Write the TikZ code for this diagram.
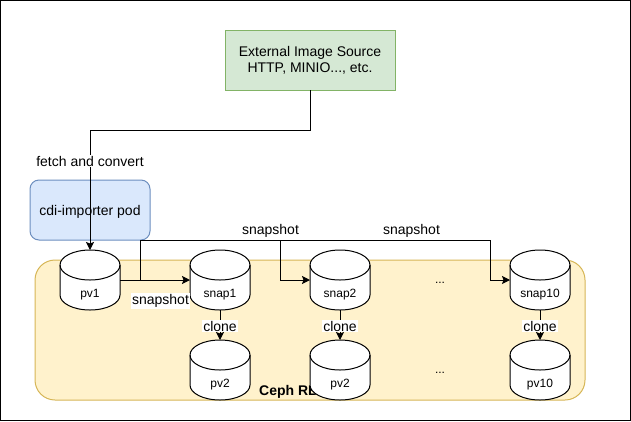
\documentclass[tikz,border=0pt]{standalone}
\usepackage{fontspec}
\setmainfont{Liberation Sans}
\usetikzlibrary{arrows.meta}
\definecolor{srcfill}{HTML}{D5E8D4}
\definecolor{srcline}{HTML}{82B366}
\definecolor{podfill}{HTML}{DAE8FC}
\definecolor{podline}{HTML}{6C8EBF}
\definecolor{cephfill}{HTML}{FFF2CC}
\definecolor{cephline}{HTML}{D6B656}
\tikzset{
    box/.style={draw, line width=1pt, inner sep=0pt, outer sep=0pt, align=center, font=\fontsize{14}{16}\selectfont},
    disk/.style={inner sep=0pt, outer sep=0pt, minimum width=60pt, minimum height=60pt,
        label={[inner sep=0pt, yshift=-15pt, font=\fontsize{12}{14}\selectfont]center:#1}},
    diskline/.style={draw, fill=white, line width=1pt},
    flow/.style={line width=1pt, -{Stealth[length=8pt,width=8pt,inset=1.5pt]}},
    lbl/.style={inner sep=0pt, font=\fontsize{14}{16}\selectfont},
    wlbl/.style={lbl, fill=white, inner sep=1pt},
}
% name, x, y, text
\newcommand{\diskat}[4]{
    \path[diskline, shift={(#2,#3)}] (-30,-15) arc (180:0:30pt and 15pt) -- (30,15) arc (0:-180:30pt and 15pt) -- cycle;
    \draw[line width=1pt, shift={(#2,#3)}] (-30,-15) arc (180:360:30pt and 15pt);
    \node[disk=#4] (#1) at (#2,#3) {};
}
\begin{document}
\begin{tikzpicture}[x=1pt,y=-1pt]
    \useasboundingbox (0,0) rectangle (631,421);
    \draw[line width=1pt] (0.5,0.5) rectangle (630.5,420.5);

    \node[box, rounded corners=20pt, fill=cephfill, draw=cephline, minimum width=550pt, minimum height=140pt] (ceph) at (310,330) {};
    \node[anchor=base west, inner sep=0pt, font=\fontsize{14}{16}\selectfont\bfseries] (cephlabel) at (259,395) {Ceph RBD};
    \node[box, fill=srcfill, draw=srcline, minimum width=170pt, minimum height=60pt] (source) at (310,60) {External Image Source\\HTTP, MINIO..., etc.};
    \node[box, rounded corners=9pt, fill=podfill, draw=podline, minimum width=120pt, minimum height=60pt, text height=10pt, text depth=0pt] (pod) at (90,210) {cdi-importer pod};

    \diskat{pv1}{90}{280}{pv1}
    \foreach \cx/\id/\snaplab/\pvlab in {220/a/snap1/pv2, 340/b/snap2/pv2, 540/c/snap10/pv10} {
        \diskat{snap\id}{\cx}{280}{\snaplab}
        \diskat{pv\id}{\cx}{370}{\pvlab}
        \draw[flow] (snap\id.south) -- (pv\id.north) node[pos=0.54, wlbl] (clone\id) {clone};
    }
    \node[font=\fontsize{12}{14}\selectfont] (dotsa) at (440,283) {...};
    \node[font=\fontsize{12}{14}\selectfont] (dotsb) at (440,373) {...};

    \coordinate (fetchb) at (310,130);
    \coordinate (fetcha) at (90,130);
    \coordinate (tap) at (140,280);
    \coordinate (topa) at (140,240);
    \coordinate (topb) at (280,240);
    \coordinate (topc) at (490,240);

    \draw[flow] (source.south) -- (fetchb) -- (fetcha) -- (pv1.north);
    \node[wlbl] (fetchlabel) at (90,161) {fetch and convert};

    \draw[flow] (pv1.east) -- (snapa.west);
    \node[wlbl] (snaplabela) at (160.5,301) {snapshot};
    \draw[flow] (tap) -- (topa) -- (topb) |- (snapb.west);
    \draw[flow] (topb) -- (topc) |- (snapc.west);
    \node[lbl] (snaplabelb) at (270.5,231) {snapshot};
    \node[lbl] (snaplabelc) at (411.5,231) {snapshot};
\end{tikzpicture}
\end{document}
